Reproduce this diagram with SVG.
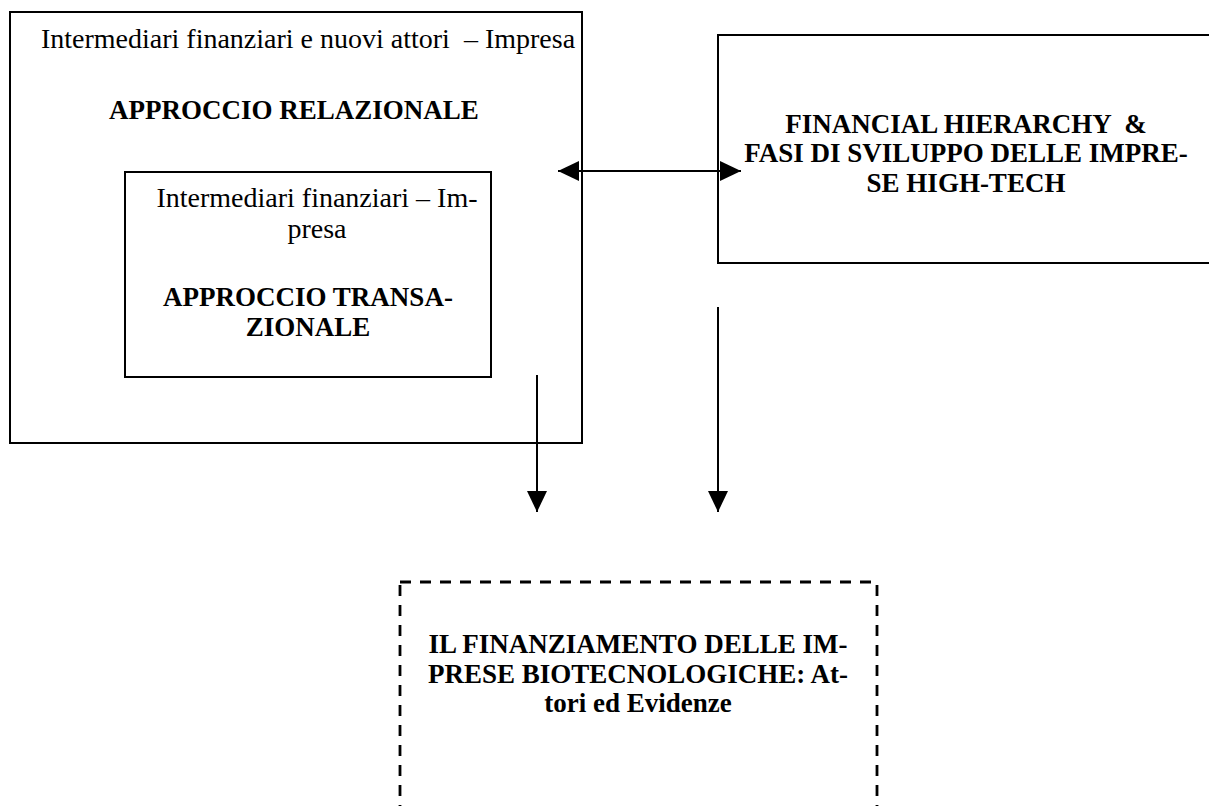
<svg xmlns="http://www.w3.org/2000/svg" width="1209" height="806" viewBox="0 0 1209 806">
<style>
.box{fill:none;stroke:#000;stroke-width:2}
.dash{fill:none;stroke:#000;stroke-width:2.8;stroke-dasharray:11 9}
.reg{font-family:"Liberation Serif","Times New Roman",serif;font-size:28px;fill:#000;text-anchor:middle;white-space:pre}
.bold{font-family:"Liberation Serif","Times New Roman",serif;font-size:27px;font-weight:bold;fill:#000;text-anchor:middle;white-space:pre}
.conn{stroke:#000;stroke-width:2;fill:none}
</style>
<defs>
<marker id="ah" viewBox="0 0 21 20" refX="21" refY="10" markerWidth="21" markerHeight="20" markerUnits="userSpaceOnUse" orient="auto-start-reverse">
<path d="M0,0 L21,10 L0,20 Z" fill="#000"/>
</marker>
</defs>
<rect width="1209" height="806" fill="#fff"/>
<g id="node-relazionale">
<rect class="box" x="10" y="12" width="572" height="431"/>
<text class="reg" x="308" y="48">Intermediari finanziari e nuovi attori  – Impresa</text>
<text class="bold" x="294" y="119">APPROCCIO RELAZIONALE</text>
</g>
<g id="node-transazionale">
<rect class="box" x="125" y="172" width="366" height="205"/>
<text class="reg" x="317" y="207">Intermediari finanziari – Im-</text>
<text class="reg" x="317" y="238">presa</text>
<text class="bold" x="308" y="306">APPROCCIO TRANSA-</text>
<text class="bold" x="308" y="336">ZIONALE</text>
</g>
<g id="node-hierarchy">
<rect class="box" x="718" y="35" width="500" height="228"/>
<text class="bold" x="966" y="133">FINANCIAL HIERARCHY  &amp;</text>
<text class="bold" x="966" y="162">FASI DI SVILUPPO DELLE IMPRE-</text>
<text class="bold" x="966" y="192">SE HIGH-TECH</text>
</g>
<g id="node-finanziamento">
<rect class="dash" x="400" y="582" width="477" height="250"/>
<text class="bold" x="638" y="653">IL FINANZIAMENTO DELLE IM-</text>
<text class="bold" x="638" y="683">PRESE BIOTECNOLOGICHE: At-</text>
<text class="bold" x="638" y="712">tori ed Evidenze</text>
</g>
<g id="connectors">
<line class="conn" x1="558" y1="171" x2="741" y2="171" marker-start="url(#ah)" marker-end="url(#ah)"/>
<line class="conn" x1="537" y1="375" x2="537" y2="512" marker-end="url(#ah)"/>
<line class="conn" x1="718" y1="307" x2="718" y2="512" marker-end="url(#ah)"/>
</g>
</svg>
